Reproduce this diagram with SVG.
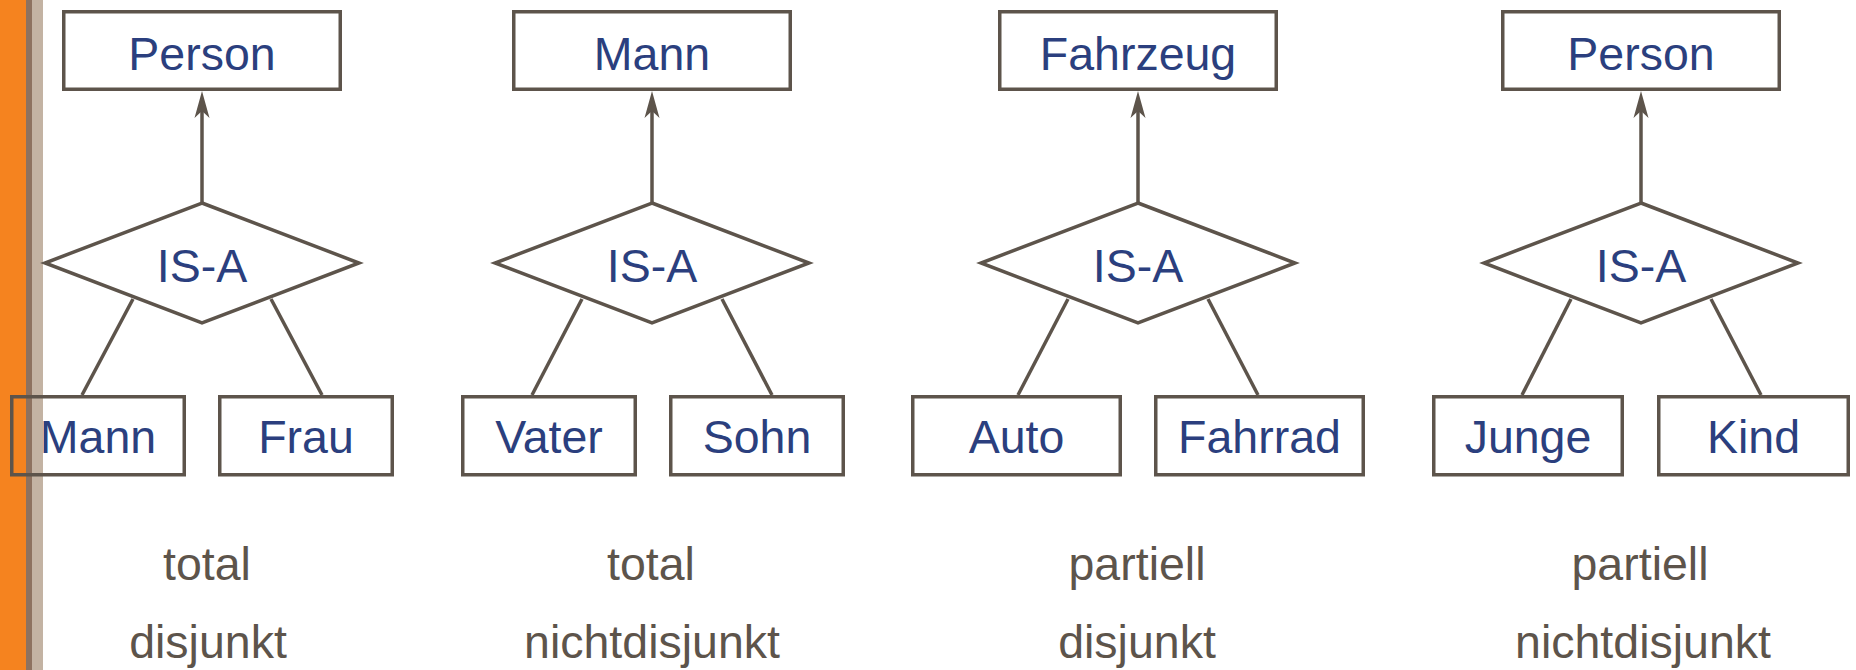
<svg xmlns="http://www.w3.org/2000/svg" width="1856" height="670" viewBox="0 0 1856 670">
<style>
.bg{fill:#ffffff}
.box{fill:none;stroke:#5d544b;stroke-width:3.5}
.dia{fill:#ffffff;stroke:#5d544b;stroke-width:3.5;stroke-linejoin:miter}
.edge{fill:none;stroke:#5d544b;stroke-width:3.5}
.head{fill:#5d544b}
.lbl{font-family:"Liberation Sans",Arial,sans-serif;font-size:46.5px;fill:#2b3f7e;text-anchor:middle}
.note{font-family:"Liberation Sans",Arial,sans-serif;font-size:46.5px;fill:#5d544b;text-anchor:middle}
</style>
<rect class="bg" x="0" y="0" width="1856" height="670"/>
<g id="sidebar">
<rect x="0" y="0" width="26" height="670" fill="#f5831f"/>
<rect x="26" y="0" width="6" height="670" fill="#8d7260"/>
<rect x="32" y="0" width="11" height="670" fill="#c3b3a3"/>
</g>

<g id="connectors">
<line class="edge" x1="202" y1="203" x2="202" y2="100"/>
<path class="head" d="M202,91 L194.5,118 L202,111 L209.5,118 Z"/>
<line class="edge" x1="133" y1="299" x2="82" y2="395"/>
<line class="edge" x1="271" y1="299" x2="322" y2="395"/>
<line class="edge" x1="652" y1="203" x2="652" y2="100"/>
<path class="head" d="M652,91 L644.5,118 L652,111 L659.5,118 Z"/>
<line class="edge" x1="582" y1="299" x2="532" y2="395"/>
<line class="edge" x1="722" y1="299" x2="772" y2="395"/>
<line class="edge" x1="1138" y1="203" x2="1138" y2="100"/>
<path class="head" d="M1138,91 L1130.5,118 L1138,111 L1145.5,118 Z"/>
<line class="edge" x1="1068" y1="299" x2="1018" y2="395"/>
<line class="edge" x1="1208" y1="299" x2="1258" y2="395"/>
<line class="edge" x1="1641" y1="203" x2="1641" y2="100"/>
<path class="head" d="M1641,91 L1633.5,118 L1641,111 L1648.5,118 Z"/>
<line class="edge" x1="1571" y1="299" x2="1522" y2="395"/>
<line class="edge" x1="1711" y1="299" x2="1761" y2="395"/>
</g>

<g id="d1-person"><rect class="box" x="63.75" y="11.75" width="276.5" height="77.5"/><text class="lbl" x="202" y="70">Person</text></g>
<g id="d1-isa"><polygon class="dia" points="202,203 359,263 202,323 45,263"/><text class="lbl" x="202" y="282">IS-A</text></g>
<g id="d1-mann"><rect class="box" x="11.75" y="396.75" width="172.5" height="78"/><text class="lbl" x="98" y="453">Mann</text></g>
<g id="d1-frau"><rect class="box" x="219.75" y="396.75" width="172.5" height="78"/><text class="lbl" x="306" y="453">Frau</text></g>
<g id="d1-notes"><text class="note" x="207" y="580">total</text><text class="note" x="208" y="658">disjunkt</text></g>

<g id="d2-mann"><rect class="box" x="513.75" y="11.75" width="276.5" height="77.5"/><text class="lbl" x="652" y="70">Mann</text></g>
<g id="d2-isa"><polygon class="dia" points="652,203 809,263 652,323 495,263"/><text class="lbl" x="652" y="282">IS-A</text></g>
<g id="d2-vater"><rect class="box" x="462.75" y="396.75" width="172.5" height="78"/><text class="lbl" x="549" y="453">Vater</text></g>
<g id="d2-sohn"><rect class="box" x="670.75" y="396.75" width="172.5" height="78"/><text class="lbl" x="757" y="453">Sohn</text></g>
<g id="d2-notes"><text class="note" x="651" y="580">total</text><text class="note" x="652" y="658">nichtdisjunkt</text></g>

<g id="d3-fahrzeug"><rect class="box" x="999.75" y="11.75" width="276.5" height="77.5"/><text class="lbl" x="1138" y="70">Fahrzeug</text></g>
<g id="d3-isa"><polygon class="dia" points="1138,203 1295,263 1138,323 981,263"/><text class="lbl" x="1138" y="282">IS-A</text></g>
<g id="d3-auto"><rect class="box" x="912.75" y="396.75" width="207.5" height="78"/><text class="lbl" x="1016.5" y="453">Auto</text></g>
<g id="d3-fahrrad"><rect class="box" x="1155.75" y="396.75" width="207.5" height="78"/><text class="lbl" x="1259.5" y="453">Fahrrad</text></g>
<g id="d3-notes"><text class="note" x="1137" y="580">partiell</text><text class="note" x="1137" y="658">disjunkt</text></g>

<g id="d4-person"><rect class="box" x="1502.75" y="11.75" width="276.5" height="77.5"/><text class="lbl" x="1641" y="70">Person</text></g>
<g id="d4-isa"><polygon class="dia" points="1641,203 1798,263 1641,323 1484,263"/><text class="lbl" x="1641" y="282">IS-A</text></g>
<g id="d4-junge"><rect class="box" x="1433.75" y="396.75" width="188.5" height="78"/><text class="lbl" x="1528" y="453">Junge</text></g>
<g id="d4-kind"><rect class="box" x="1658.75" y="396.75" width="189.5" height="78"/><text class="lbl" x="1753.5" y="453">Kind</text></g>
<g id="d4-notes"><text class="note" x="1640" y="580">partiell</text><text class="note" x="1643" y="658">nichtdisjunkt</text></g>
</svg>
